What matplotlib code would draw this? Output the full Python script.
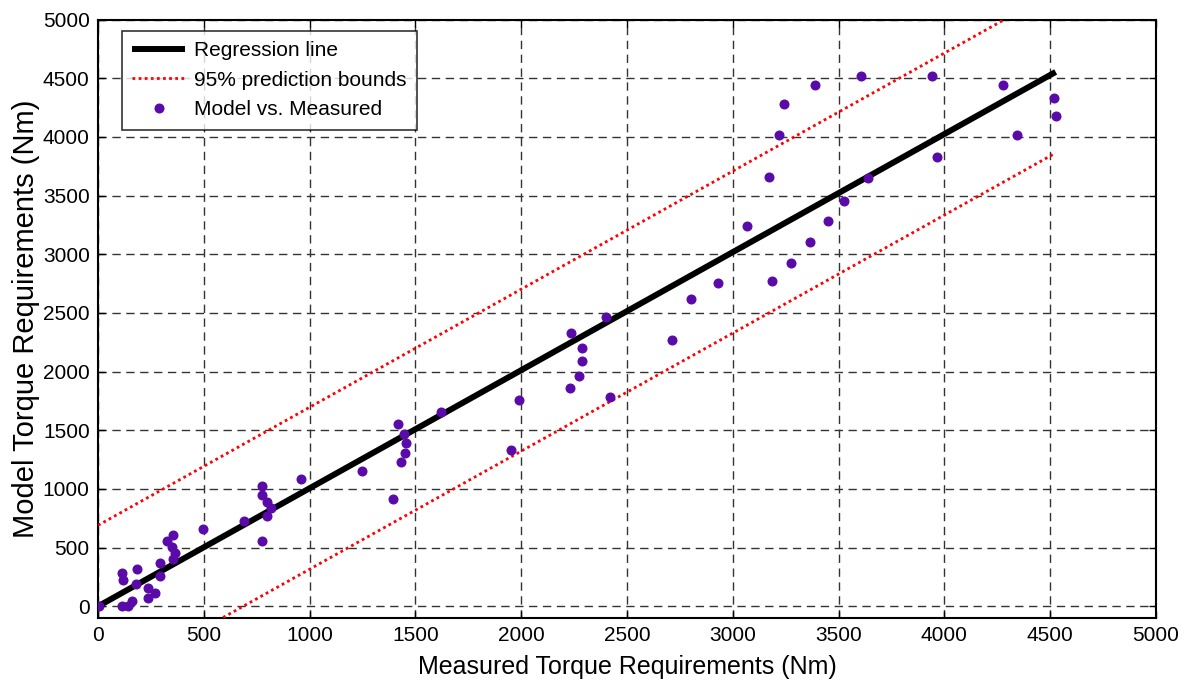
import numpy as np
import matplotlib
matplotlib.use("Agg")
import matplotlib.pyplot as plt

plt.rcParams['font.family'] = ['Liberation Sans', 'DejaVu Sans']

# Measured vs. model torque requirements (Nm)
measured = [5, 113, 118, 115, 143, 161, 186, 180, 236, 236, 268, 293, 293, 325,
            356, 351, 364, 356, 495, 688, 777, 777, 797, 816, 797, 777, 959,
            1249, 1419, 1445, 1457, 1451, 1432, 1394, 1621, 1952, 1991, 2229,
            2235, 2273, 2286, 2286, 2401, 2418, 2714, 2802, 2928, 3067, 3187,
            3275, 3363, 3452, 3527, 3173, 3217, 3242, 3387, 3607, 3639, 3941,
            3967, 4275, 4343, 4520, 4526]
model = [0, 282, 226, 0, 0, 41, 317, 186, 152, 72, 112, 254, 365, 555,
         610, 504, 456, 402, 655, 723, 1024, 945, 885, 834, 768, 555, 1087,
         1150, 1556, 1465, 1391, 1303, 1226, 911, 1656, 1329, 1761, 1860,
         2329, 1960, 2088, 2201, 2466, 1787, 2267, 2619, 2759, 3242, 2770,
         2924, 3100, 3279, 3452, 3660, 4013, 4280, 4445, 4521, 3646, 4518,
         3825, 4442, 4013, 4331, 4177]

# Regression fit and 95% prediction half-width
reg_slope = 1.006
reg_intercept = 0.0
pred_halfwidth = 690.0

ticks = [0, 500, 1000, 1500, 2000, 2500, 3000, 3500, 4000, 4500, 5000]

fig = plt.figure(figsize=(11.9, 6.82), dpi=100)
ax = fig.add_axes([0.0824, 0.0938, 0.889, 0.8776])

xs = np.array([0, max(measured)], dtype=float)
yfit = reg_intercept + reg_slope * xs

ax.plot(xs, yfit, color='black', lw=4.3, solid_capstyle='butt',
        label='Regression line', zorder=3)
ax.plot(xs, yfit + pred_halfwidth, color='red', lw=2.0, ls=(0, (1, 1.2)),
        label='95% prediction bounds', zorder=3)
ax.plot(xs, yfit - pred_halfwidth, color='red', lw=2.0, ls=(0, (1, 1.2)),
        zorder=3)
ax.plot(measured, model, ls='none', marker='o', ms=6.2, color='#5a0aa8',
        markeredgecolor='#5a0aa8', label='Model vs. Measured', zorder=4)

ax.set_xlim(0, 5000)
ax.set_ylim(-100, 5000)
ax.set_xticks(ticks)
ax.set_yticks(ticks)

ax.grid(True, color='#333333', ls=(0, (6, 4)), lw=1.0)
ax.set_axisbelow(True)
ax.tick_params(direction='in', length=5, width=1, top=True, right=True,
               labelsize=15, colors='black', pad=6)
for s in ax.spines.values():
    s.set_linewidth(1.5)

ax.set_xlabel('Measured Torque Requirements (Nm)', fontsize=18, labelpad=7)
ax.set_ylabel('Model Torque Requirements (Nm)', fontsize=21, labelpad=2)

leg = ax.legend(loc='upper left', bbox_to_anchor=(0.0227, 0.981), fontsize=15,
                frameon=True, fancybox=False, edgecolor='black',
                handlelength=2.5, borderpad=0.5, labelspacing=0.5,
                handletextpad=0.45, borderaxespad=0)
leg.get_frame().set_linewidth(1.2)

fig.savefig('out.png', dpi=100)
